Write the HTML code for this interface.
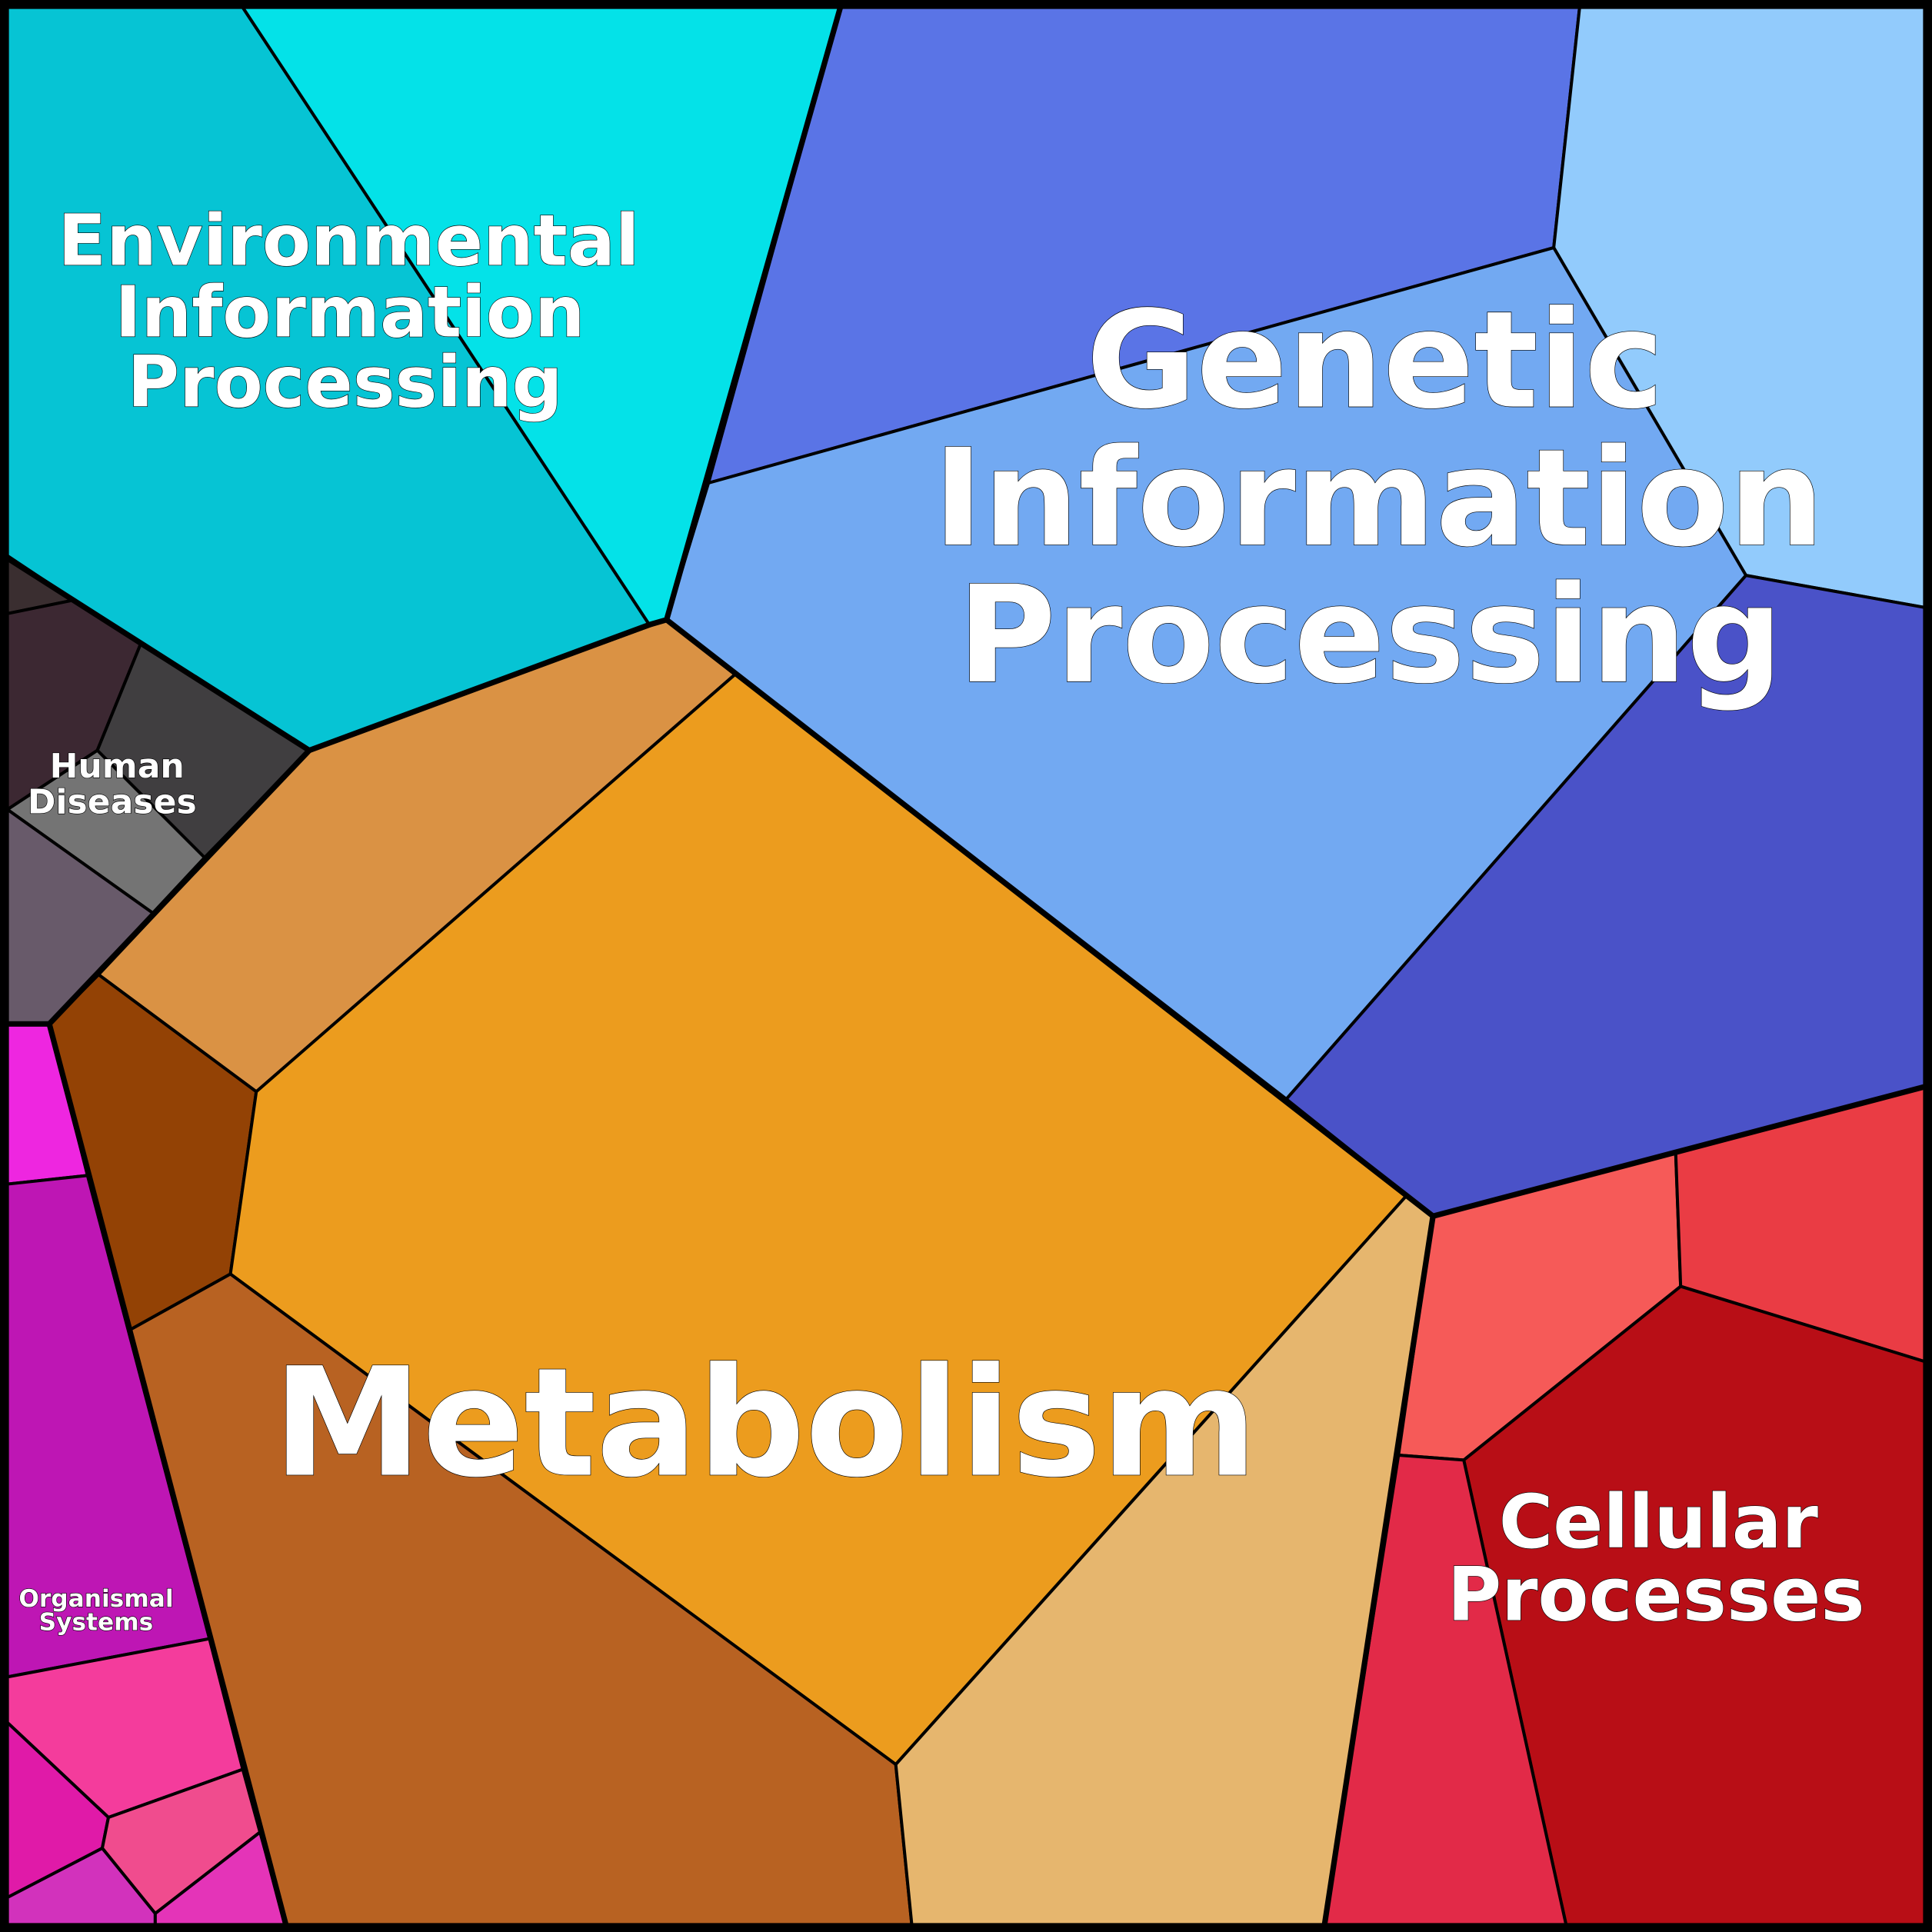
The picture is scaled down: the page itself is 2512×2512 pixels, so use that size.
<!DOCTYPE html>
<html><head><meta charset="utf-8"><style>
html,body{margin:0;padding:0;background:#000;}
svg{display:block;}
text{font-family:"DejaVu Sans","Liberation Sans",sans-serif;font-weight:bold;fill:#fff;stroke:#000;stroke-width:0.8;paint-order:stroke;text-anchor:middle;}
</style></head><body>
<svg width="2512" height="2512" viewBox="0 0 1568 1568" xmlns="http://www.w3.org/2000/svg">
<rect x="0" y="0" width="1568" height="1568" fill="#000"/>
<g stroke="#000" stroke-width="2.5" stroke-linejoin="round">
<polygon fill="#06c4d4" points="6,6 197,6 527,507 251,609 6,453"/>
<polygon fill="#04e2e8" points="197,6 682,6 541,503 527,507"/>
<polygon fill="#5a74e6" points="682,6 1282,6 1261,201 575,392"/>
<polygon fill="#92cbfc" points="1282,6 1562,6 1562,493 1417,467 1261,201"/>
<polygon fill="#72a9f2" points="575,392 1261,201 1417,467 1044,892 541,503"/>
<polygon fill="#4a52c8" points="1417,467 1562,493 1562,882 1163,987 1044,892"/>
<polygon fill="#da9244" points="541,503 597,547 208,886 80,791 251,609"/>
<polygon fill="#934205" points="80,791 208,886 187,1034 106,1079 40,831"/>
<polygon fill="#ec9c1e" points="597,547 1141,971 727,1432 187,1034 208,886"/>
<polygon fill="#b86222" points="187,1034 727,1432 740,1562 232,1562 106,1079"/>
<polygon fill="#e6b66e" points="1141,971 1163,987 1075,1562 740,1562 727,1432"/>
<polygon fill="#f65a58" points="1163,987 1360,936 1364,1044 1188,1185 1135,1181"/>
<polygon fill="#ea3c44" points="1360,936 1562,882 1562,1105 1364,1044"/>
<polygon fill="#b80e16" points="1364,1044 1562,1105 1562,1562 1271,1562 1188,1185"/>
<polygon fill="#e22a48" points="1135,1181 1188,1185 1271,1562 1075,1562"/>
<polygon fill="#3a2e30" points="6,451 60,487 6,498"/>
<polygon fill="#3c2832" points="6,498 60,487 114,523 79,609 6,657"/>
<polygon fill="#403e40" points="114,523 251,609 166,696 79,609"/>
<polygon fill="#747474" points="6,657 79,609 166,696 124,741"/>
<polygon fill="#685a6a" points="6,657 124,741 40,831 6,831"/>
<polygon fill="#ee26e0" points="6,831 40,831 71,954 6,961"/>
<polygon fill="#be16b4" points="6,961 71,954 170,1330 6,1361"/>
<polygon fill="#f43c9c" points="6,1361 170,1330 197,1436 88,1475 6,1398"/>
<polygon fill="#e01aa8" points="6,1398 88,1475 83,1500 6,1540"/>
<polygon fill="#f04c8e" points="88,1475 197,1436 211,1487 126,1553 83,1500"/>
<polygon fill="#d232bc" points="6,1540 83,1500 126,1553 126,1562 6,1562"/>
<polygon fill="#e434b8" points="126,1553 211,1487 232,1562 126,1562"/>
</g>
<g stroke="#000" stroke-width="4.5" fill="none" stroke-linejoin="round">
<polyline points="682,6 541,503 527,507 251,609 6,453"/>
<polyline points="541,503 1163,987 1562,882"/>
<polyline points="1163,987 1075,1562"/>
<polyline points="251,609 40,831 232,1562"/>
<polyline points="6,831 40,831"/>
<rect x="3.5" y="3.5" width="1561" height="1561"/>
</g>
<text font-size="57.5" x="283" y="215">Environmental</text>
<text font-size="57.5" x="284" y="273">Information</text>
<text font-size="57.5" x="280" y="330">Processing</text>
<text font-size="109" x="1116" y="330">Genetic</text>
<text font-size="109" x="1119" y="442">Information</text>
<text font-size="109" x="1112" y="553">Processing</text>
<text font-size="122" x="621" y="1197">Metabolism</text>
<text font-size="60" x="1346" y="1256">Cellular</text>
<text font-size="60" x="1344" y="1315">Processes</text>
<text font-size="27.5" x="95" y="631">Human</text>
<text font-size="27.5" x="91" y="660">Diseases</text>
<text font-size="19.5" x="78" y="1304">Organismal</text>
<text font-size="19.5" x="78" y="1323">Systems</text>
</svg>
</body></html>
